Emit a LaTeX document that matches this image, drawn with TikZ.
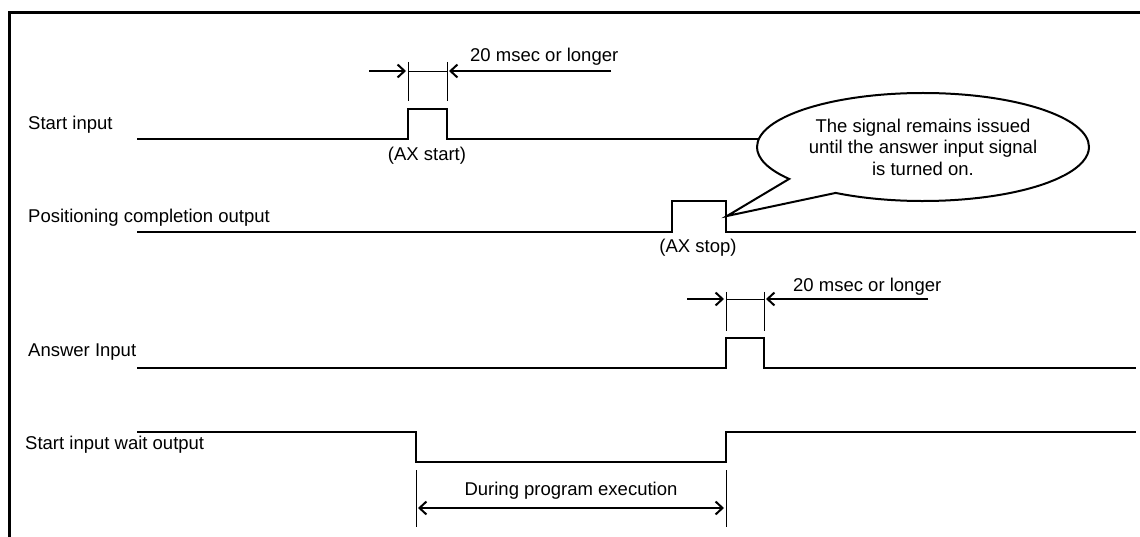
\documentclass[tikz,border=0pt]{standalone}
\usepackage{fontspec}
\setmainfont{Liberation Sans}
\usetikzlibrary{arrows.meta,shapes.callouts}
\begin{document}
\begin{tikzpicture}[x=1pt,y=-1pt,
  sig/.style={line width=2.6pt, line join=miter},
  frame/.style={line width=2.8pt},
  dimline/.style={line width=0.9pt},
  dimarrow/.style={line width=2pt,-{Straight Barb[length=7pt,width=13pt,line width=2pt]}},
  lbl/.style={font=\fontsize{18.5}{21}\selectfont, inner sep=0pt, anchor=west},
  ctext/.style={font=\fontsize{18.5}{21}\selectfont, inner sep=0pt},
  bubble/.style={ellipse callout, draw, line width=2pt, fill=white, minimum width=332pt, minimum height=108pt, inner sep=0pt, callout pointer arc=22, align=center, font=\fontsize{18.5}{21.5}\selectfont}]
\useasboundingbox (0,0) rectangle (1140,537);
% frame
\coordinate (fbl) at (9.5,537);
\coordinate (ftl) at (9.5,12.5);
\coordinate (ftr) at (1140,12.5);
\draw[frame] (fbl) -- (ftl) -- (ftr);

% ---------- Start input ----------
\node[lbl] (l1) at (28,125) {Start input};
\draw[sig] (137,139) -- (408,139) -- (408,109) -- (447,109) -- (447,139) -- (800,139);
\node[ctext] (axstart) at (427,156) {(AX start)};
\coordinate (a1) at (408,62); \coordinate (a1b) at (408,101);
\coordinate (b1) at (447,62); \coordinate (b1b) at (447,101);
\draw[dimline] (a1) -- (a1b); \draw[dimline] (b1) -- (b1b);
\draw[dimline] (408,71) -- (447,71);
\coordinate (p1s) at (369,71); \coordinate (p1e) at (406,71);
\coordinate (q1s) at (611,71); \coordinate (q1e) at (449,71);
\draw[dimarrow] (p1s) -- (p1e);
\draw[dimarrow] (q1s) -- (q1e);
\node[ctext, anchor=west] (t1) at (470,57) {20 msec or longer};

% ---------- Positioning completion output ----------
\node[lbl] (l2) at (28,218) {Positioning completion output};
\draw[sig] (137,232) -- (672,232) -- (672,201) -- (726,201) -- (726,232) -- (1136,232);
\node[ctext] (axstop) at (698,248) {(AX stop)};
\coordinate (tip) at (727,216);
\node[bubble, callout absolute pointer=(tip)] (note) at (923,147) {The signal remains issued\\until the answer input signal\\is turned on.};

% ---------- Answer Input ----------
\node[lbl] (l3) at (28,352) {Answer Input};
\draw[sig] (137,368) -- (726,368) -- (726,338) -- (764,338) -- (764,368) -- (1136,368);
\coordinate (a3) at (726,292); \coordinate (a3b) at (726,331);
\coordinate (b3) at (764,292); \coordinate (b3b) at (764,331);
\draw[dimline] (a3) -- (a3b); \draw[dimline] (b3) -- (b3b);
\draw[dimline] (726,299) -- (764,299);
\coordinate (p3s) at (687,299); \coordinate (p3e) at (724,299);
\coordinate (q3s) at (928,299); \coordinate (q3e) at (766,299);
\draw[dimarrow] (p3s) -- (p3e);
\draw[dimarrow] (q3s) -- (q3e);
\node[ctext, anchor=west] (t3) at (793,287) {20 msec or longer};

% ---------- Start input wait output ----------
\node[lbl] (l4) at (25,445) {Start input wait output};
\draw[sig] (137,432) -- (416,432) -- (416,462) -- (726,462) -- (726,432) -- (1136,432);
\coordinate (d1) at (416,470); \coordinate (d1b) at (416,527);
\coordinate (d2) at (726,470); \coordinate (d2b) at (726,527);
\draw[dimline] (d1) -- (d1b); \draw[dimline] (d2) -- (d2b);
\coordinate (e1) at (418,508); \coordinate (e2) at (724,508);
\draw[line width=2pt,{Straight Barb[length=7pt,width=13pt,line width=2pt]}-{Straight Barb[length=7pt,width=13pt,line width=2pt]}] (e1) -- (e2);
\node[ctext] (dur) at (571,491) {During program execution};
\end{tikzpicture}
\end{document}
